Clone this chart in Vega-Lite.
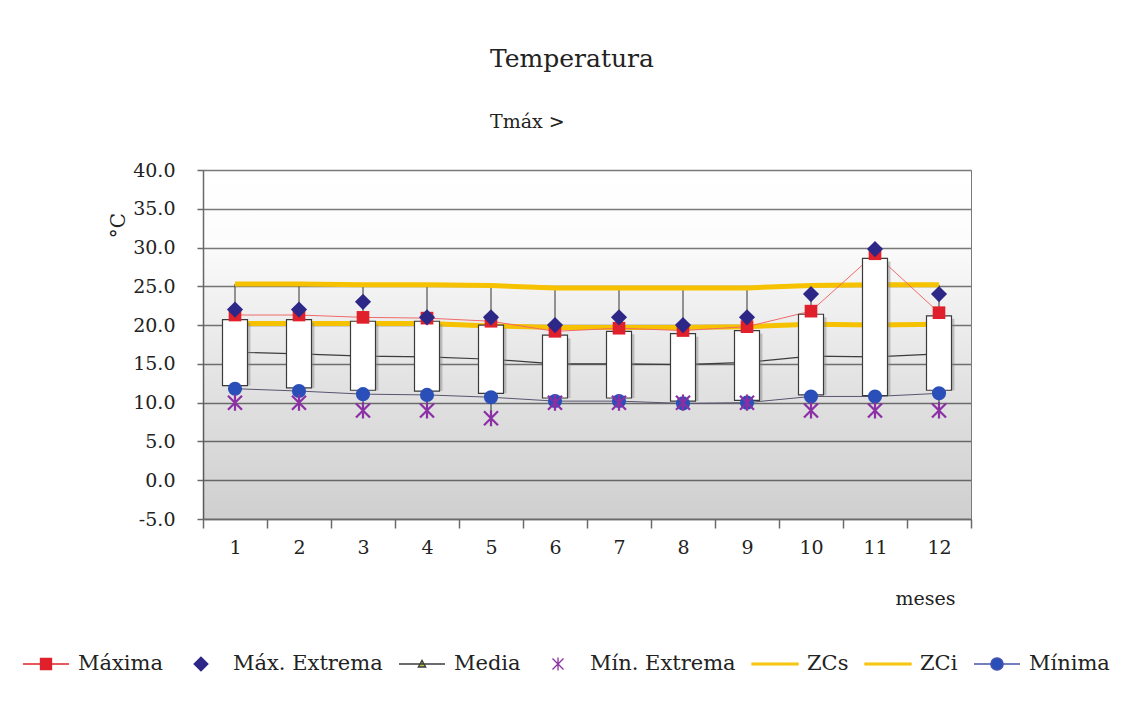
{
  "$schema": "https://vega.github.io/schema/vega-lite/v6.json",
  "width": 768,
  "height": 349,
  "autosize": {"type": "none"},
  "padding": {"left": 203, "top": 170, "right": 161, "bottom": 192},
  "background": "white",
  "config": {
    "font": "DejaVu Serif",
    "view": {"stroke": "#7a7a7a", "strokeWidth": 1},
    "legend": {
      "title": null, "orient": "none", "legendX": -181, "legendY": 470, "direction": "horizontal", "columns": 7,
      "columnPadding": 13, "labelFont": "DejaVu Serif", "labelFontSize": 21, "labelColor": "#222", "labelOffset": 8,
      "symbolSize": 2116, "symbolStrokeWidth": 1.3
    },
    "axisY": {
      "labelFont": "DejaVu Serif", "labelFontSize": 19, "labelColor": "#222", "labelPadding": 22, "labelOverlap": false,
      "labelExpr": "replace(format(datum.value, '.1f'), '\u2212', '-')", "tickCount": 12,
      "grid": true, "gridColor": "#7a7a7a", "gridWidth": 1.5,
      "domainColor": "#6a6a6a", "domainWidth": 1.5, "tickColor": "#6a6a6a", "tickSize": 6, "tickWidth": 1.5,
      "titleFont": "DejaVu Serif", "titleFontSize": 20, "titleFontWeight": "normal", "titleColor": "#222",
      "titleAngle": -90, "titleX": -85, "titleY": 55, "titleAlign": "center", "titleBaseline": "middle"
    },
    "axisX": {
      "labelFont": "DejaVu Serif", "labelFontSize": 19, "labelColor": "#222", "labelAngle": 0, "labelPadding": 10,
      "tickBand": "extent", "grid": false, "domainColor": "#6a6a6a", "domainWidth": 1.5,
      "tickColor": "#6a6a6a", "tickSize": 9, "tickWidth": 1.5,
      "titleFont": "DejaVu Serif", "titleFontSize": 19, "titleFontWeight": "normal", "titleColor": "#222",
      "titleX": 722, "titleY": 79, "titleAlign": "center", "titleBaseline": "middle"
    }
  },
  "title": {
    "text": "Temperatura", "subtitle": "Tmáx >", "frame": "group", "anchor": "start", "dx": 287,
    "font": "DejaVu Serif", "fontSize": 25, "fontWeight": "normal", "color": "#222",
    "subtitleFont": "DejaVu Serif", "subtitleFontSize": 19, "subtitleColor": "#222",
    "subtitlePadding": 41, "offset": 29
  },
  "data": {
    "values": [
      {"m": 1, "Maxima": 21.3, "MaxExt": 22, "Media": 16.5, "MinExt": 10, "ZCs": 25.3, "ZCi": 20.2, "Minima": 11.8, "BoxTop": 20.7, "BoxBot": 12.2},
      {"m": 2, "Maxima": 21.3, "MaxExt": 22, "Media": 16.3, "MinExt": 10, "ZCs": 25.3, "ZCi": 20.2, "Minima": 11.5, "BoxTop": 20.7, "BoxBot": 11.9},
      {"m": 3, "Maxima": 21.0, "MaxExt": 23, "Media": 16.0, "MinExt": 9, "ZCs": 25.2, "ZCi": 20.2, "Minima": 11.1, "BoxTop": 20.5, "BoxBot": 11.6},
      {"m": 4, "Maxima": 20.9, "MaxExt": 21, "Media": 15.9, "MinExt": 9, "ZCs": 25.2, "ZCi": 20.2, "Minima": 11.0, "BoxTop": 20.5, "BoxBot": 11.5},
      {"m": 5, "Maxima": 20.5, "MaxExt": 21, "Media": 15.6, "MinExt": 8, "ZCs": 25.1, "ZCi": 19.9, "Minima": 10.7, "BoxTop": 20.0, "BoxBot": 11.2},
      {"m": 6, "Maxima": 19.2, "MaxExt": 20, "Media": 15.0, "MinExt": 10, "ZCs": 24.8, "ZCi": 19.7, "Minima": 10.2, "BoxTop": 18.7, "BoxBot": 10.6},
      {"m": 7, "Maxima": 19.6, "MaxExt": 21, "Media": 15.0, "MinExt": 10, "ZCs": 24.8, "ZCi": 19.7, "Minima": 10.2, "BoxTop": 19.2, "BoxBot": 10.6},
      {"m": 8, "Maxima": 19.3, "MaxExt": 20, "Media": 14.9, "MinExt": 10, "ZCs": 24.8, "ZCi": 19.7, "Minima": 9.9, "BoxTop": 18.9, "BoxBot": 10.2},
      {"m": 9, "Maxima": 19.8, "MaxExt": 21, "Media": 15.2, "MinExt": 10, "ZCs": 24.8, "ZCi": 19.8, "Minima": 10.0, "BoxTop": 19.3, "BoxBot": 10.3},
      {"m": 10, "Maxima": 21.8, "MaxExt": 24, "Media": 16.0, "MinExt": 9, "ZCs": 25.1, "ZCi": 20.1, "Minima": 10.8, "BoxTop": 21.4, "BoxBot": 11.0},
      {"m": 11, "Maxima": 29.2, "MaxExt": 29.8, "Media": 15.9, "MinExt": 9, "ZCs": 25.2, "ZCi": 20.0, "Minima": 10.8, "BoxTop": 28.6, "BoxBot": 10.9},
      {"m": 12, "Maxima": 21.6, "MaxExt": 24, "Media": 16.3, "MinExt": 9, "ZCs": 25.2, "ZCi": 20.1, "Minima": 11.2, "BoxTop": 21.2, "BoxBot": 11.6}
    ]
  },
  "layer": [
    {
      "data": {"values": [{}]},
      "mark": {"type": "rect", "color": {"gradient": "linear", "x1": 0, "y1": 0, "x2": 0, "y2": 1,
        "stops": [{"offset": 0, "color": "rgba(0,0,0,0)"}, {"offset": 0.2, "color": "rgba(0,0,0,0.01)"}, {"offset": 0.35, "color": "rgba(0,0,0,0.05)"}, {"offset": 0.65, "color": "rgba(0,0,0,0.12)"}, {"offset": 1, "color": "rgba(0,0,0,0.19)"}]}},
      "encoding": {
        "y": {"datum": 40, "type": "quantitative", "scale": {"domain": [-5, 40], "nice": false}, "title": "°C",
          "axis": {"values": [-5, 0, 5, 10, 15, 20, 25, 30, 35, 40], "tickCount": 12}},
        "y2": {"datum": -5}
      }
    },
    {
      "mark": {"type": "rule", "color": "#333", "strokeWidth": 1},
      "encoding": {
        "x": {"field": "m", "type": "ordinal", "title": "meses", "scale": {"paddingInner": 0, "paddingOuter": 0}},
        "y": {"field": "ZCs", "type": "quantitative", "scale": {"domain": [-5, 40], "nice": false}, "title": "°C"},
        "y2": {"field": "MinExt"}
      }
    },
    {
      "mark": {"type": "line", "color": "#f6c200", "strokeWidth": 5},
      "encoding": {
        "x": {"field": "m", "type": "ordinal", "title": "meses", "scale": {"paddingInner": 0, "paddingOuter": 0}},
        "y": {"field": "ZCs", "type": "quantitative", "scale": {"domain": [-5, 40], "nice": false}, "title": "°C"}
      }
    },
    {
      "mark": {"type": "line", "color": "#f6c200", "strokeWidth": 5},
      "encoding": {
        "x": {"field": "m", "type": "ordinal", "title": "meses", "scale": {"paddingInner": 0, "paddingOuter": 0}},
        "y": {"field": "ZCi", "type": "quantitative", "scale": {"domain": [-5, 40], "nice": false}, "title": "°C"}
      }
    },
    {
      "mark": {"type": "line", "color": "#3c3c3c", "strokeWidth": 1.2},
      "encoding": {
        "x": {"field": "m", "type": "ordinal", "title": "meses", "scale": {"paddingInner": 0, "paddingOuter": 0}},
        "y": {"field": "Media", "type": "quantitative", "scale": {"domain": [-5, 40], "nice": false}, "title": "°C"}
      }
    },
    {
      "mark": {"type": "line", "color": "#5a5470", "strokeWidth": 1},
      "encoding": {
        "x": {"field": "m", "type": "ordinal", "title": "meses", "scale": {"paddingInner": 0, "paddingOuter": 0}},
        "y": {"field": "Minima", "type": "quantitative", "scale": {"domain": [-5, 40], "nice": false}, "title": "°C"}
      }
    },
    {
      "mark": {"type": "line", "color": "#f06a6a", "strokeWidth": 1},
      "encoding": {
        "x": {"field": "m", "type": "ordinal", "title": "meses", "scale": {"paddingInner": 0, "paddingOuter": 0}},
        "y": {"field": "Maxima", "type": "quantitative", "scale": {"domain": [-5, 40], "nice": false}, "title": "°C"}
      }
    },
    {
      "mark": {"type": "bar", "size": 25, "color": "#8a8a8a", "opacity": 0.45, "xOffset": 3, "yOffset": 3},
      "encoding": {
        "x": {"field": "m", "type": "ordinal", "title": "meses", "scale": {"paddingInner": 0, "paddingOuter": 0}},
        "y": {"field": "BoxTop", "type": "quantitative", "scale": {"domain": [-5, 40], "nice": false}, "title": "°C"},
        "y2": {"field": "BoxBot"}
      }
    },
    {
      "mark": {"type": "bar", "size": 25, "fill": "#ffffff", "stroke": "#3a3a3a", "strokeWidth": 1.2},
      "encoding": {
        "x": {"field": "m", "type": "ordinal", "title": "meses", "scale": {"paddingInner": 0, "paddingOuter": 0}},
        "y": {"field": "BoxTop", "type": "quantitative", "scale": {"domain": [-5, 40], "nice": false}, "title": "°C"},
        "y2": {"field": "BoxBot"}
      }
    },
    {
      "mark": {"type": "point", "shape": "circle", "filled": true, "size": 200, "color": "#2a4fb8", "opacity": 1},
      "encoding": {
        "x": {"field": "m", "type": "ordinal", "title": "meses", "scale": {"paddingInner": 0, "paddingOuter": 0}},
        "y": {"field": "Minima", "type": "quantitative", "scale": {"domain": [-5, 40], "nice": false}, "title": "°C"}
      }
    },
    {
      "mark": {"type": "point", "shape": "M-1,-1L1,1M-1,1L1,-1M0,-1.15V1.15", "filled": false, "size": 196, "stroke": "#8b2fa5", "strokeWidth": 2.2, "opacity": 1},
      "encoding": {
        "x": {"field": "m", "type": "ordinal", "title": "meses", "scale": {"paddingInner": 0, "paddingOuter": 0}},
        "y": {"field": "MinExt", "type": "quantitative", "scale": {"domain": [-5, 40], "nice": false}, "title": "°C"}
      }
    },
    {
      "mark": {"type": "point", "shape": "square", "filled": true, "size": 160, "color": "#e0202a", "opacity": 1},
      "encoding": {
        "x": {"field": "m", "type": "ordinal", "title": "meses", "scale": {"paddingInner": 0, "paddingOuter": 0}},
        "y": {"field": "Maxima", "type": "quantitative", "scale": {"domain": [-5, 40], "nice": false}, "title": "°C"}
      }
    },
    {
      "mark": {"type": "point", "shape": "diamond", "filled": true, "size": 260, "color": "#2d2888", "opacity": 1},
      "encoding": {
        "x": {"field": "m", "type": "ordinal", "title": "meses", "scale": {"paddingInner": 0, "paddingOuter": 0}},
        "y": {"field": "MaxExt", "type": "quantitative", "scale": {"domain": [-5, 40], "nice": false}, "title": "°C"}
      }
    },
    {
      "data": {"values": [{"s": "Máxima"}]},
      "transform": [{"filter": "false"}],
      "mark": {"type": "point", "opacity": 1, "strokeWidth": 1.3},
      "encoding": {
        "stroke": {
          "field": "s", "type": "nominal",
          "scale": {
            "domain": ["Máxima", "Máx. Extrema", "Media", "Mín. Extrema", "ZCs", "ZCi", "Mínima"],
            "range": ["#e0202a", "#2d2888", "#3c3c3c", "#8b2fa5", "#f6c200", "#f6c200", "#4a55a8"]
          }
        },
        "fill": {
          "field": "s", "type": "nominal",
          "scale": {
            "domain": ["Máxima", "Máx. Extrema", "Media", "Mín. Extrema", "ZCs", "ZCi", "Mínima"],
            "range": ["#e0202a", "#2d2888", "#b8c43c", "#8b2fa5", "#f6c200", "#f6c200", "#2a4fb8"]
          }
        },
        "shape": {
          "field": "s", "type": "nominal",
          "scale": {
            "domain": ["Máxima", "Máx. Extrema", "Media", "Mín. Extrema", "ZCs", "ZCi", "Mínima"],
            "range": [
              "M-1,0H1M-0.24,-0.24H0.24V0.24H-0.24Z",
              "M0,-0.3L0.3,0L0,0.3L-0.3,0Z",
              "M-1,0H1M0,-0.16L0.16,0.13H-0.16Z",
              "M-0.24,-0.24L0.24,0.24M-0.24,0.24L0.24,-0.24M0,-0.28V0.28",
              "M-1,-0.035H1V0.035H-1Z",
              "M-1,-0.035H1V0.035H-1Z",
              "M-1,0H-0.27A0.27,0.27 0 1,1 0.27,0A0.27,0.27 0 1,1 -0.27,0M0.27,0H1"
            ]
          }
        }
      }
    }
  ]
}
